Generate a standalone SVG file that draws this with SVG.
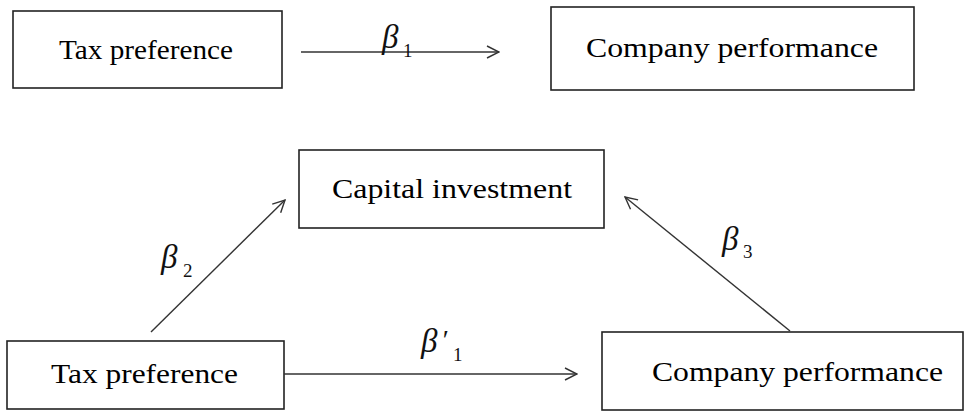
<svg xmlns="http://www.w3.org/2000/svg" width="966" height="415" viewBox="0 0 966 415">
<style>
.box{fill:#fff;stroke:#222;stroke-width:1.6}
.lbl{font-size:28px;fill:#000}
.g{font-style:italic;font-size:33px;fill:#111}
.s{font-size:19px;fill:#111}
.p{font-style:italic;font-size:28px;fill:#111}
.c{stroke:#333;stroke-width:1.4;fill:none;marker-end:url(#ah)}
</style>
<defs>
<marker id="ah" viewBox="0 0 14 14" markerWidth="14" markerHeight="14" refX="13" refY="7" orient="auto" markerUnits="userSpaceOnUse">
<path d="M1,1 L13,7 L1,13" fill="none" stroke="#333" stroke-width="1.4"/>
</marker>
</defs>
<rect width="966" height="415" fill="#fff"/>
<g font-family="Liberation Serif, Times New Roman, serif">
<g id="tax1">
<rect class="box" x="13" y="11" width="269" height="77"/>
<text class="lbl" x="59" y="59" textLength="174" lengthAdjust="spacingAndGlyphs">Tax preference</text>
</g>
<g id="perf1">
<rect class="box" x="551" y="7" width="363" height="83"/>
<text class="lbl" x="586" y="57" textLength="292" lengthAdjust="spacingAndGlyphs">Company performance</text>
</g>
<g id="capital">
<rect class="box" x="299" y="150" width="305" height="78"/>
<text class="lbl" x="332" y="198" textLength="240" lengthAdjust="spacingAndGlyphs">Capital investment</text>
</g>
<g id="tax2">
<rect class="box" x="7" y="341" width="277" height="68"/>
<text class="lbl" x="51" y="383" textLength="187" lengthAdjust="spacingAndGlyphs">Tax preference</text>
</g>
<g id="perf2">
<rect class="box" x="602" y="332" width="361" height="78"/>
<text class="lbl" x="652" y="381" textLength="291" lengthAdjust="spacingAndGlyphs">Company performance</text>
</g>
<g id="connectors">
<line class="c" x1="301" y1="52" x2="499" y2="52"/>
<line class="c" x1="151" y1="332" x2="285" y2="200"/>
<line class="c" x1="790" y1="331" x2="625" y2="197"/>
<line class="c" x1="284" y1="374" x2="577" y2="374"/>
</g>
<g id="labels">
<text class="g" x="382" y="48">β</text><text class="s" x="403" y="57">1</text>
<text class="g" x="161" y="268">β</text><text class="s" x="183" y="277">2</text>
<text class="g" x="722" y="250">β</text><text class="s" x="743" y="258">3</text>
<text class="g" x="421" y="352">β</text><text class="p" x="441" y="349">′</text><text class="s" x="453" y="361">1</text>
</g>
</g>
</svg>
